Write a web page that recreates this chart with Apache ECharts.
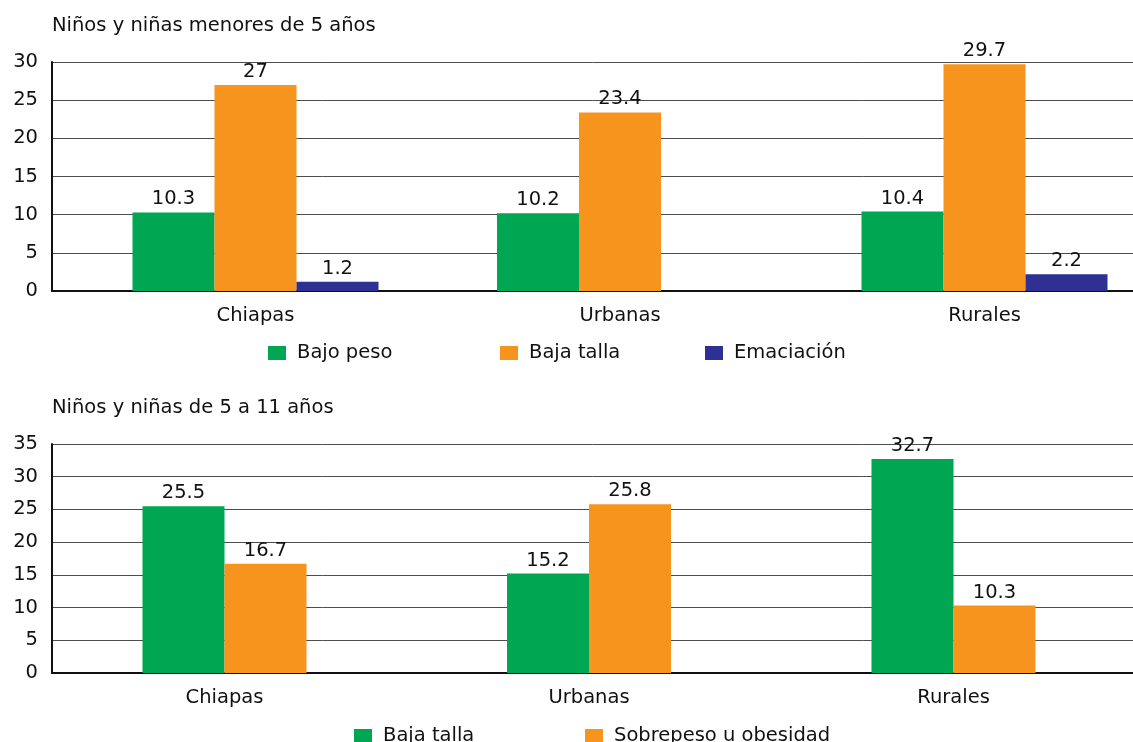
<!DOCTYPE html>
<html>
<head>
<meta charset="utf-8">
<script src="https://cdn.jsdelivr.net/npm/echarts@6/dist/echarts.min.js"></script>
<style>
  html, body { margin: 0; padding: 0; background: #fff; }
  #chart { width: 1133px; height: 742px; }
</style>
</head>
<body>
<div id="chart"></div>
<script>
// Regions shown in both panels
const categories = ['Chiapas', 'Urbanas', 'Rurales'];

// Panel 1: children under 5
const titleTop = 'Niños y niñas menores de 5 años';
const bajoPeso = [10.3, 10.2, 10.4];
const bajaTallaMenores = [27, 23.4, 29.7];
const emaciacion = [1.2, null, 2.2];
const ticksTop = [0, 5, 10, 15, 20, 25, 30];

// Panel 2: children 5 to 11
const titleBottom = 'Niños y niñas de 5 a 11 años';
const bajaTallaEscolar = [25.5, 15.2, 32.7];
const sobrepeso = [16.7, 25.8, 10.3];
const ticksBottom = [0, 5, 10, 15, 20, 25, 30, 35];

const GREEN = '#00a651';
const ORANGE = '#f7941d';
const BLUE = '#2e3192';
const INK = '#111111';
const FONT = 'DejaVu Sans';
const FS = 19.5;

const chart = echarts.init(document.getElementById('chart'), null, { renderer: 'canvas' });

const step = 364.5;            // width of one category band
const plotW = step * categories.length;

function frameAxes(gridIdx, ticks) {
  const max = ticks[ticks.length - 1];
  return {
    x: {
      type: 'value', gridIndex: gridIdx, min: 0, max: 1,
      axisLine: { show: true, onZero: false, lineStyle: { color: '#111', width: 2 } },
      axisTick: { show: false }, axisLabel: { show: false }, splitLine: { show: false }
    },
    y: {
      type: 'value', gridIndex: gridIdx, min: 0, max: max, interval: 5,
      axisLine: { show: true, lineStyle: { color: '#111', width: 2 } },
      axisTick: { show: false },
      axisLabel: { color: INK, fontFamily: FONT, fontSize: FS, margin: 14 },
      splitLine: { show: true, lineStyle: { color: '#4d4d4d', width: 1 } }
    }
  };
}

function barAxes(gridIdx, ticks) {
  const max = ticks[ticks.length - 1];
  return {
    x: {
      type: 'category', gridIndex: gridIdx, data: categories,
      axisLine: { show: false }, axisTick: { show: false },
      axisLabel: { color: INK, fontFamily: FONT, fontSize: FS, margin: 15 }
    },
    y: { type: 'value', gridIndex: gridIdx, min: 0, max: max, interval: 5, show: false }
  };
}

const f0 = frameAxes(0, ticksTop), b1 = barAxes(1, ticksTop);
const f2 = frameAxes(2, ticksBottom), b3 = barAxes(3, ticksBottom);

function bar(name, data, color, axisIdx) {
  return {
    name: name, type: 'bar', data: data,
    xAxisIndex: axisIdx, yAxisIndex: axisIdx,
    barWidth: 82, barGap: '0%',
    itemStyle: { color: color },
    label: {
      show: true, position: 'top', distance: 3,
      color: INK, fontFamily: FONT, fontSize: FS
    },
    emphasis: { disabled: true }
  };
}

function legendItem(name, left, top) {
  return {
    data: [name], left: left, top: top, orient: 'horizontal',
    icon: 'rect', itemWidth: 18, itemHeight: 14, padding: 0,
    selectedMode: false,
    textStyle: { color: INK, fontFamily: FONT, fontSize: FS, padding: [0, 0, 0, 6] }
  };
}

function plotGrid(left, top) {
  return { left: left, width: plotW, top: top, height: 229, outerBoundsMode: 'none', containLabel: false };
}

chart.setOption({
  animation: false,
  title: [
    { text: titleTop, left: 52, top: 16, padding: 0,
      textStyle: { color: INK, fontFamily: FONT, fontSize: FS, fontWeight: 'normal' } },
    { text: titleBottom, left: 52, top: 398, padding: 0,
      textStyle: { color: INK, fontFamily: FONT, fontSize: FS, fontWeight: 'normal' } }
  ],
  grid: [
    { left: 52, right: 0, top: 62, height: 229 },
    plotGrid(73.25, 62),
    { left: 52, right: 0, top: 444, height: 229 },
    plotGrid(42.25, 444)
  ],
  xAxis: [f0.x, b1.x, f2.x, b3.x],
  yAxis: [f0.y, b1.y, f2.y, b3.y],
  legend: [
    legendItem('Bajo peso', 268, 343),
    legendItem('Baja talla', 500, 343),
    legendItem('Emaciación', 705, 343),
    legendItem('Baja talla ', 354, 726),
    legendItem('Sobrepeso u obesidad', 585, 726)
  ],
  series: [
    bar('Bajo peso', bajoPeso, GREEN, 1),
    bar('Baja talla', bajaTallaMenores, ORANGE, 1),
    bar('Emaciación', emaciacion, BLUE, 1),
    bar('Baja talla ', bajaTallaEscolar, GREEN, 3),
    bar('Sobrepeso u obesidad', sobrepeso, ORANGE, 3)
  ]
});
</script>
</body>
</html>
